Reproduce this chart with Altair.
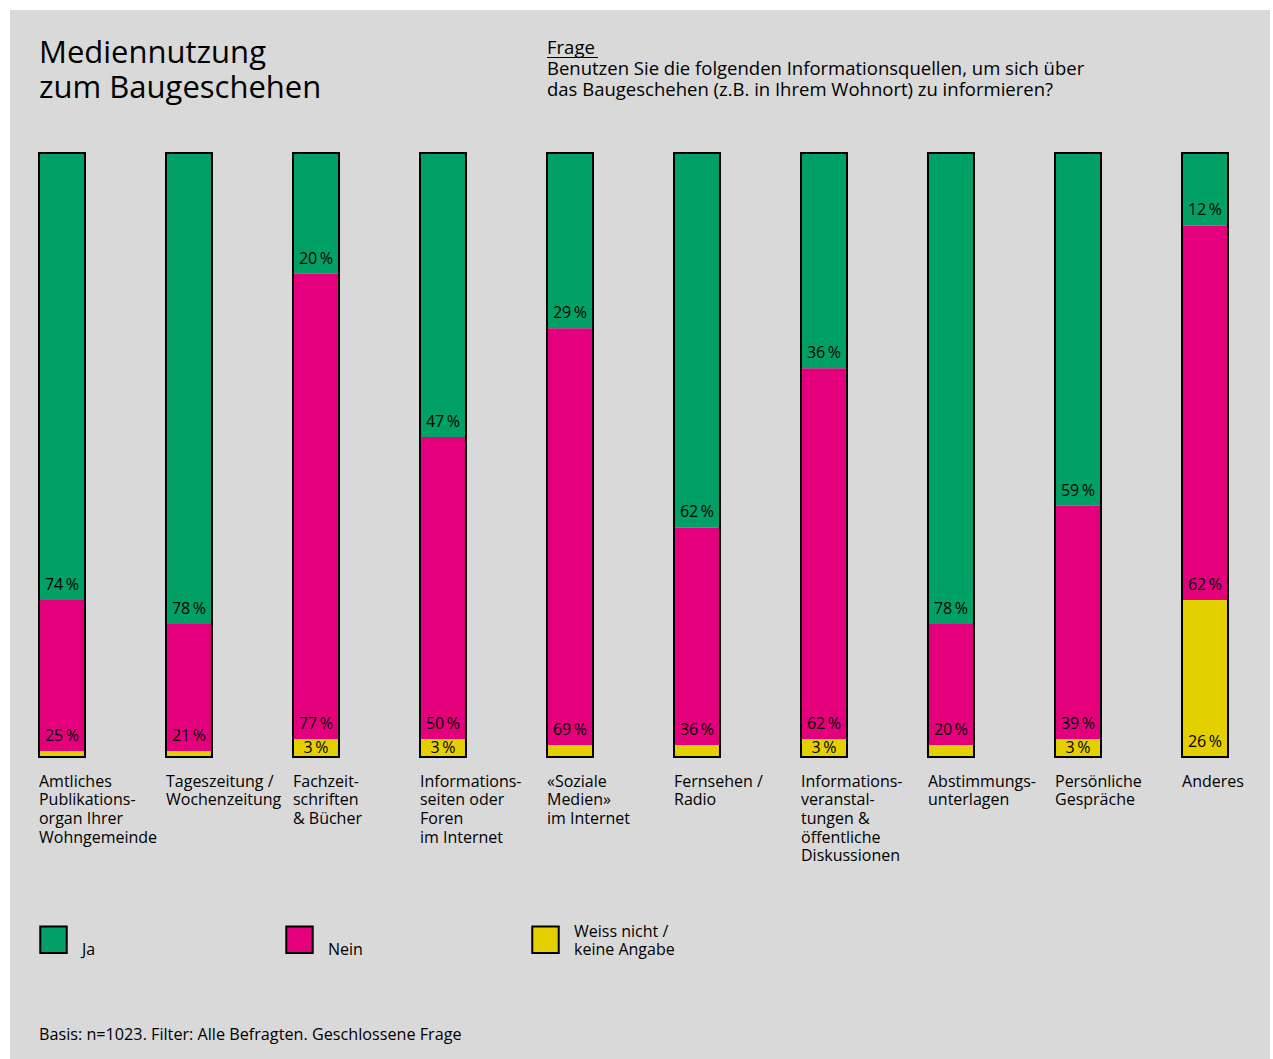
import altair as alt
import pandas as pd

FONT = "Open Sans"

categories = [
    "Amtliches|Publikations-|organ Ihrer|Wohngemeinde",
    "Tageszeitung /|Wochenzeitung",
    "Fachzeit-|schriften|& Bücher",
    "Informations-|seiten oder|Foren|im Internet",
    "«Soziale|Medien»|im Internet",
    "Fernsehen /|Radio",
    "Informations-|veranstal-|tungen &|öffentliche|Diskussionen",
    "Abstimmungs-|unterlagen",
    "Persönliche|Gespräche",
    "Anderes",
]
ja = [74, 78, 20, 47, 29, 62, 36, 78, 59, 12]
nein = [25, 21, 77, 50, 69, 36, 62, 20, 39, 62]
weiss = [1, 1, 3, 3, 2, 2, 3, 2, 3, 26]

series = ["Ja", "Nein", "Weiss nicht / keine Angabe"]
colors = ["#00a066", "#e4007c", "#e4d000"]

title_lines = ["Mediennutzung", "zum Baugeschehen"]
question_lines = [
    "Frage",
    "Benutzen Sie die folgenden Informationsquellen, um sich über",
    "das Baugeschehen (z.B. in Ihrem Wohnort) zu informieren?",
]
footer = "Basis: n=1023. Filter: Alle Befragten. Geschlossene Frage"

# stacked table (bottom to top: Weiss nicht, Nein, Ja), shares of each bar's total
rows = []
for i, cat in enumerate(categories):
    total = ja[i] + nein[i] + weiss[i]
    base = 0.0
    for name, vals in [(series[2], weiss), (series[1], nein), (series[0], ja)]:
        v = vals[i]
        share = v * 100.0 / total
        rows.append({
            "cat": cat, "series": name, "value": v,
            "y0": base, "y1": base + share,
            "ylab": base + min(2.5, share / 2),
            "label": f"{v}\u2009%",
        })
        base += share
df = pd.DataFrame(rows)
tot = pd.DataFrame({"cat": categories, "lo": [0] * len(categories),
                    "hi": [100] * len(categories)})

W, H = 1189, 604
PADL, PADT = 39, 153
BODY = 16

xenc = alt.X(
    "cat:N", sort=categories,
    scale=alt.Scale(paddingInner=0.638, paddingOuter=0),
    axis=alt.Axis(
        title=None, domain=False, ticks=False, labelAngle=0,
        labelAlign="left", labelBaseline="top", labelOffset=-23,
        labelExpr="split(datum.label, '|')", labelFont=FONT,
        labelFontSize=BODY, labelColor="black", labelLineHeight=18.7,
        labelPadding=16, labelLimit=300, labelOverlap=False, labelBound=False,
        labelFlush=False, zindex=2,
    ),
)
yscale = alt.Scale(domain=[0, 100])

bg = alt.Chart(alt.Data(values=[{}])).mark_rect(color="#d9d9d9").encode(
    x=alt.value(10 - PADL), x2=alt.value(1270 - PADL),
    y=alt.value(10 - PADT), y2=alt.value(1059 - PADT),
)

bars = alt.Chart(df).mark_bar().encode(
    x=xenc,
    y=alt.Y("y0:Q", scale=yscale, axis=None),
    y2="y1:Q",
    color=alt.Color(
        "series:N",
        scale=alt.Scale(domain=series, range=colors),
        legend=alt.Legend(
            title=None, orient="none", legendX=0, legendY=772,
            direction="horizontal", columns=3, symbolType="square",
            symbolSize=700, symbolStrokeColor="black", symbolStrokeWidth=2,
            symbolOpacity=1, labelFont=FONT, labelFontSize=BODY,
            labelColor="black", labelOffset=14,
            labelBaseline="bottom", gridAlign="all", columnPadding=99,
            padding=0, labelLimit=300,
            labelExpr="datum.label == 'Weiss nicht / keine Angabe' ? ['Weiss nicht /', 'keine Angabe'] : ['', datum.label]",
        ),
    ),
)

outline = alt.Chart(tot).mark_bar(fillOpacity=0, stroke="black", strokeWidth=2).encode(
    x=xenc, y=alt.Y("lo:Q", scale=yscale, axis=None), y2="hi:Q",
)

labels = alt.Chart(df).transform_filter("datum.value >= 3").mark_text(
    font=FONT, fontSize=16, color="black", baseline="middle", align="center",
).encode(
    x=xenc, y=alt.Y("ylab:Q", scale=yscale, axis=None), text="label:N",
)

title = alt.Chart(alt.Data(values=[{}])).mark_text(
    text=title_lines, font=FONT, fontSize=31, lineHeight=35,
    align="left", baseline="alphabetic", color="black",
).encode(x=alt.value(0), y=alt.value(63 - PADT))

question = alt.Chart(alt.Data(values=[{}])).mark_text(
    text=question_lines, font=FONT, fontSize=18.5, lineHeight=21,
    align="left", baseline="alphabetic", color="black",
).encode(x=alt.value(547 - PADL), y=alt.value(54 - PADT))

underline = alt.Chart(alt.Data(values=[{}])).mark_rule(color="black", strokeWidth=1).encode(
    x=alt.value(547 - PADL), x2=alt.value(598 - PADL), y=alt.value(57.5 - PADT),
)

foot = alt.Chart(alt.Data(values=[{}])).mark_text(
    text=footer, font=FONT, fontSize=16.2, align="left",
    baseline="alphabetic", color="black",
).encode(x=alt.value(0), y=alt.value(1040 - PADT))

chart = alt.layer(bg, bars, outline, labels, title, question, underline, foot).properties(
    width=W, height=H,
    autosize=alt.AutoSizeParams(type="none"),
    padding={"left": PADL, "top": PADT, "right": 1273 - PADL - W, "bottom": 1059 - PADT - H},
    background="white",
).configure_view(stroke="transparent")

chart.save("out.html", embed_options={"renderer": "svg", "actions": False})
